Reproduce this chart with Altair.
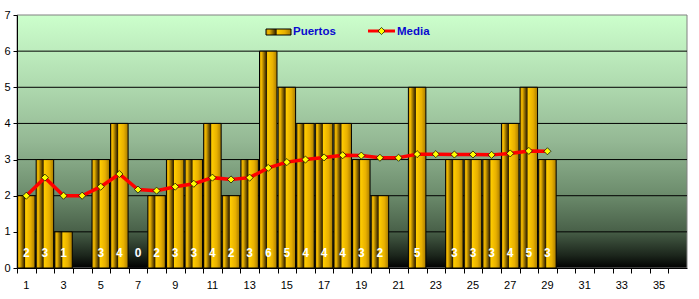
import altair as alt
import pandas as pd

days = list(range(1, 30))
puertos = [2, 3, 1, None, 3, 4, 0, 2, 3, 3, 4, 2, 3, 6, 5, 4, 4, 4, 3, 2, None, 5, None, 3, 3, 3, 4, 5, 3]
media = [2.0, 2.5, 2.0, 2.0, 2.25, 2.6, 2.17, 2.14, 2.25, 2.33, 2.5, 2.45, 2.5, 2.77, 2.93,
         3.0, 3.06, 3.12, 3.11, 3.05, 3.05, 3.15, 3.15, 3.14, 3.14, 3.13, 3.17, 3.24, 3.23]
x_domain = list(range(1, 37))
y_ticks = list(range(0, 8))
grid_lines = [1, 2, 3, 4, 5, 6]

df = pd.DataFrame({"dia": days, "puertos": puertos, "media": media})
bars_df = df.dropna(subset=["puertos"])
grid_df = pd.DataFrame({"g": grid_lines})

FONT = "Liberation Sans"

x_axis = alt.Axis(title=None, bandPosition=0, labelAngle=0,
                  labelExpr="datum.value % 2 == 1 ? datum.value : ''",
                  tickSize=5, tickColor="black", domainColor="black",
                  labelFontSize=11, labelFont=FONT, labelColor="black",
                  labelPadding=6, labelOverlap=False, grid=False, zindex=1)
x_scale = alt.Scale(domain=x_domain, paddingInner=0.06, paddingOuter=0.03)
y_scale = alt.Scale(domain=[0, 7], nice=False, zero=True)
y_axis = alt.Axis(title=None, values=y_ticks, tickSize=4, tickColor="black", domainColor="black",
                  labelFontSize=11, labelFont=FONT, labelColor="black", labelPadding=3,
                  labelOverlap=False, labelFlush=False, grid=False, zindex=1)


def X():
    return alt.X("dia:O", scale=x_scale, axis=x_axis)


bar_grad = alt.LinearGradient(gradient="linear", x1=0, x2=1, y1=0, y2=0, stops=[
    alt.GradientStop(offset=0, color="#d09c00"),
    alt.GradientStop(offset=0.12, color="#f0b800"),
    alt.GradientStop(offset=0.40, color="#302000"),
    alt.GradientStop(offset=0.46, color="#ffcc00"),
    alt.GradientStop(offset=0.75, color="#e8b000"),
    alt.GradientStop(offset=1, color="#a87c00"),
])

bg_grad = alt.LinearGradient(gradient="linear", x1=0, x2=0, y1=0, y2=1, stops=[
    alt.GradientStop(offset=0, color="#ccffcc"),
    alt.GradientStop(offset=0.25, color="#b2deb2"),
    alt.GradientStop(offset=0.5, color="#94b894"),
    alt.GradientStop(offset=0.7, color="#6e8e6e"),
    alt.GradientStop(offset=0.85, color="#4a624a"),
    alt.GradientStop(offset=0.95, color="#1c261c"),
    alt.GradientStop(offset=1, color="#000000"),
])

one = alt.Data(values=[{"k": 1}])

background = alt.Chart(one).mark_rect(fill=bg_grad, stroke="#808080", strokeWidth=1).encode(
    x=alt.value(0), x2=alt.value("width"), y=alt.value(0), y2=alt.value("height"))

grid = alt.Chart(grid_df).mark_rule(color="black", strokeWidth=1).encode(
    y=alt.Y("g:Q", scale=y_scale, axis=y_axis))

bars = alt.Chart(bars_df).mark_bar(fill=bar_grad, stroke="black", strokeWidth=1).encode(
    x=X(),
    y=alt.Y("puertos:Q", scale=y_scale, axis=y_axis),
)

labels = alt.Chart(bars_df).mark_text(color="white", fontWeight="bold", fontSize=12, font=FONT,
                                      baseline="middle", dy=-15).encode(
    x=X(),
    y=alt.Y(datum=0, scale=y_scale, axis=y_axis),
    text=alt.Text("puertos:Q", format="d"),
)

line = alt.Chart(df).mark_line(color="#ff0000", strokeWidth=3.5).encode(
    x=X(),
    y=alt.Y("media:Q", scale=y_scale, axis=y_axis),
)
points = alt.Chart(df).mark_point(shape="diamond", filled=True, fill="#ffff00", stroke="black",
                                  strokeWidth=0.7, size=50, opacity=1).encode(
    x=X(),
    y=alt.Y("media:Q", scale=y_scale, axis=y_axis),
)

leg_bar = alt.Chart(one).mark_rect(fill=bar_grad, stroke="black", strokeWidth=1).encode(
    x=alt.value(249), x2=alt.value(274), y=alt.value(14), y2=alt.value(20))
leg_t1 = alt.Chart(one).mark_text(text="Puertos", color="#0a0ad0", fontWeight="bold", fontSize=11.5,
                                  font=FONT, align="left", baseline="middle").encode(
    x=alt.value(276), y=alt.value(17))
leg_line = alt.Chart(one).mark_rule(color="#ff0000", strokeWidth=3).encode(
    x=alt.value(351), x2=alt.value(378), y=alt.value(16))
leg_pt = alt.Chart(one).mark_point(shape="diamond", filled=True, fill="#ffff00", stroke="black",
                                   strokeWidth=0.7, size=50, opacity=1).encode(
    x=alt.value(364.5), y=alt.value(16))
leg_t2 = alt.Chart(one).mark_text(text="Media", color="#0a0ad0", fontWeight="bold", fontSize=11.5,
                                  font=FONT, align="left", baseline="middle").encode(
    x=alt.value(380), y=alt.value(17))

chart = alt.layer(background, grid, bars, labels, line, points,
                  leg_bar, leg_t1, leg_line, leg_pt, leg_t2).properties(
    width=670, height=253,
    padding={"left": 17, "top": 15, "right": 12, "bottom": 31},
    autosize=alt.AutoSizeParams(type="none"),
    background="white",
).configure_view(stroke=None)

chart.save("out.html", embed_options={"renderer": "svg", "actions": False})
